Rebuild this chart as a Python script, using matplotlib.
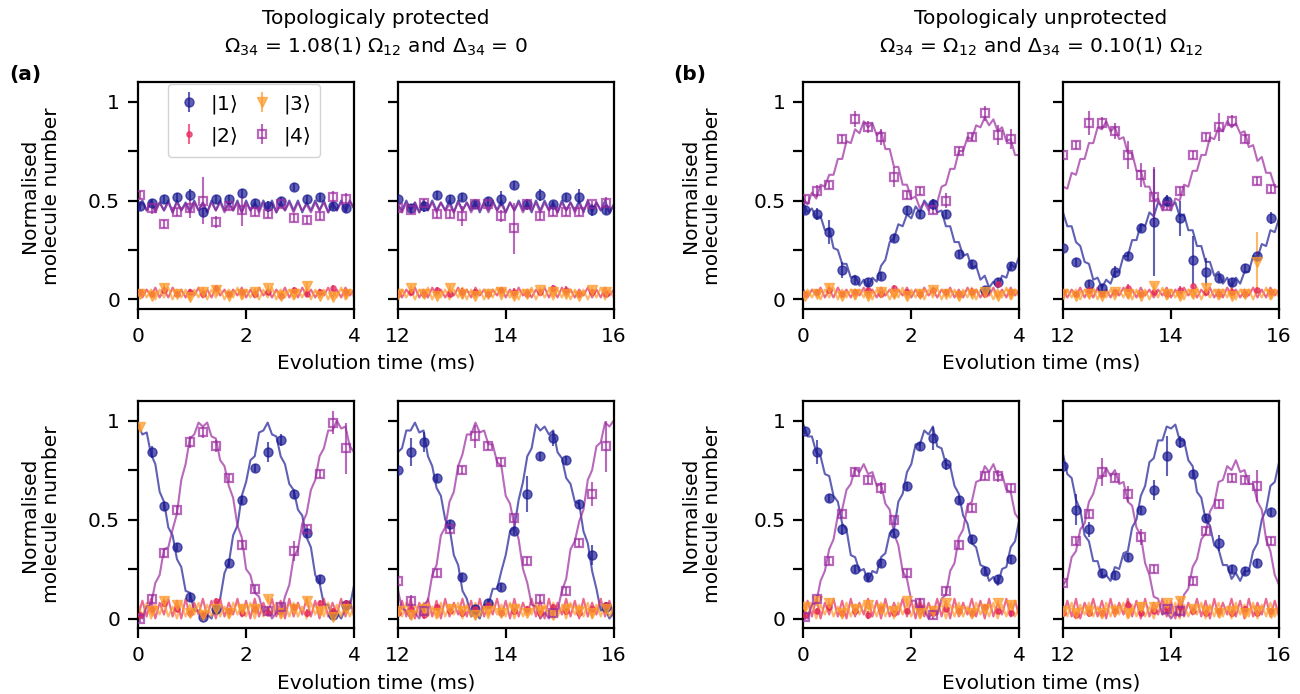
import numpy as np
import matplotlib
matplotlib.use("Agg")
import matplotlib.pyplot as plt

FS = 14.5
plt.rcParams.update({
    "font.family": ["DejaVu Sans"],
    "font.size": FS,
    "mathtext.fontset": "dejavusans",
    "axes.linewidth": 1.6,
    "xtick.major.size": 7, "ytick.major.size": 7,
    "xtick.major.width": 1.6, "ytick.major.width": 1.6,
    "xtick.major.pad": 6, "ytick.major.pad": 6,
})

nan = float("nan")

# ---------------- data ----------------
state_labels = [r"$|1\rangle$", r"$|2\rangle$", r"$|3\rangle$", r"$|4\rangle$"]
group_titles = ["Topologicaly protected",
                "Topologicaly unprotected"]
group_subtitles = [r"$\Omega_{34}$ = 1.08(1) $\Omega_{12}$ and $\Delta_{34}$ = 0",
                   r"$\Omega_{34}$ = $\Omega_{12}$ and $\Delta_{34}$ = 0.10(1) $\Omega_{12}$"]
panel_tags = ["(a)", "(b)"]
window_starts = [0, 12]

t_data_early = [0.03, 0.25, 0.48, 0.72, 0.96, 1.20, 1.44, 1.68, 1.92, 2.16, 2.40, 2.64, 2.88, 3.12, 3.36, 3.60, 3.85]
t_data_late = [12.0, 12.24, 12.48, 12.72, 12.96, 13.2, 13.44, 13.68, 13.92, 14.16, 14.4, 14.64, 14.88, 15.12, 15.36, 15.6, 15.85]

err_minor = [0.015, 0.015, 0.02, 0.015, 0.015, 0.02, 0.015, 0.015, 0.015, 0.02, 0.015, 0.015, 0.015, 0.02, 0.015, 0.015, 0.015]

# (a) top, 0-4 ms
a_top_early_1 = [0.47, 0.49, 0.51, 0.52, 0.53, 0.44, 0.51, 0.51, 0.54, 0.49, 0.47, 0.50, 0.57, 0.51, 0.52, 0.47, 0.46]
a_top_early_2 = [0.04, 0.03, 0.05, 0.03, 0.04, 0.03, 0.06, 0.03, 0.04, 0.03, 0.04, 0.02, 0.05, 0.03, 0.04, 0.06, 0.04]
a_top_early_3 = [0.03, 0.02, 0.06, 0.03, 0.01, 0.04, 0.05, 0.02, 0.03, 0.04, 0.06, 0.02, 0.03, 0.07, 0.02, 0.01, 0.03]
a_top_early_4 = [0.53, 0.46, 0.38, 0.44, 0.46, 0.50, 0.39, 0.47, 0.45, 0.44, 0.43, 0.48, 0.41, 0.40, 0.42, 0.52, 0.51]
a_top_early_e1 = [0.02, 0.02, 0.02, 0.02, 0.03, 0.02, 0.02, 0.02, 0.02, 0.02, 0.03, 0.02, 0.02, 0.02, 0.02, 0.02, 0.02]
a_top_early_e4 = [0.02, 0.03, 0.02, 0.02, 0.05, 0.12, 0.03, 0.02, 0.08, 0.02, 0.02, 0.02, 0.02, 0.02, 0.02, 0.03, 0.03]

# (a) top, 12-16 ms
a_top_late_1 = [0.51, 0.46, 0.47, 0.53, 0.51, 0.52, 0.48, 0.50, 0.51, 0.58, 0.48, 0.53, 0.48, 0.52, 0.52, 0.45, 0.45]
a_top_late_2 = [0.03, 0.04, 0.03, 0.05, 0.03, 0.04, 0.04, 0.03, 0.05, 0.04, 0.03, 0.04, 0.06, 0.05, 0.03, 0.04, 0.03]
a_top_late_3 = [0.03, 0.06, 0.03, 0.02, 0.06, 0.03, 0.02, 0.03, 0.04, 0.02, 0.03, 0.05, 0.04, 0.03, 0.02, 0.05, 0.04]
a_top_late_4 = [0.46, 0.45, 0.49, 0.43, 0.43, 0.42, 0.48, 0.48, 0.42, 0.36, 0.48, 0.42, 0.44, 0.44, 0.44, 0.48, 0.49]
a_top_late_e1 = [0.02, 0.02, 0.03, 0.02, 0.02, 0.02, 0.02, 0.02, 0.04, 0.02, 0.02, 0.03, 0.02, 0.02, 0.04, 0.03, 0.02]
a_top_late_e4 = [0.02, 0.02, 0.02, 0.02, 0.02, 0.05, 0.02, 0.02, 0.03, 0.13, 0.03, 0.02, 0.02, 0.02, 0.02, 0.02, 0.03]

# (a) bottom, 0-4 ms
a_bot_early_1 = [nan, 0.84, 0.57, 0.36, 0.11, 0.01, 0.05, 0.28, 0.60, 0.76, 0.84, 0.90, 0.63, 0.43, 0.20, 0.02, 0.07]
a_bot_early_2 = [0.02, 0.05, 0.08, 0.05, 0.03, 0.02, 0.09, 0.04, 0.03, 0.05, 0.03, 0.04, 0.06, 0.03, 0.08, 0.04, 0.08]
a_bot_early_3 = [0.97, 0.04, 0.09, 0.07, 0.03, 0.02, 0.05, 0.03, 0.05, 0.05, 0.10, 0.03, 0.05, 0.09, 0.04, 0.01, 0.05]
a_bot_early_4 = [0.00, 0.10, 0.33, 0.55, 0.89, 0.94, 0.87, 0.71, 0.37, 0.15, 0.04, 0.06, 0.34, 0.45, 0.73, 0.99, 0.86]
a_bot_early_e1 = [0.02, 0.03, 0.02, 0.02, 0.02, 0.02, 0.02, 0.02, 0.02, 0.02, 0.05, 0.03, 0.02, 0.02, 0.02, 0.02, 0.02]
a_bot_early_e4 = [0.02, 0.02, 0.02, 0.02, 0.03, 0.03, 0.03, 0.02, 0.02, 0.02, 0.02, 0.02, 0.05, 0.02, 0.02, 0.06, 0.13]

# (a) bottom, 12-16 ms
a_bot_late_1 = [0.75, 0.84, 0.89, 0.71, 0.48, 0.21, 0.05, 0.08, 0.16, 0.44, 0.63, 0.82, 0.91, 0.80, 0.58, 0.32, 0.06]
a_bot_late_2 = [0.03, 0.05, 0.02, 0.06, 0.04, 0.03, 0.05, 0.07, 0.03, 0.04, 0.05, 0.03, 0.06, 0.04, 0.03, 0.05, 0.07]
a_bot_late_3 = [0.04, 0.02, 0.05, 0.03, 0.05, 0.04, 0.02, 0.04, 0.03, 0.05, 0.03, 0.04, 0.02, 0.05, 0.04, 0.03, 0.05]
a_bot_late_4 = [0.19, 0.09, 0.04, 0.23, 0.45, 0.75, 0.92, 0.87, 0.79, 0.51, 0.29, 0.10, 0.03, 0.14, 0.38, 0.63, 0.87]
a_bot_late_e1 = [0.02, 0.07, 0.05, 0.02, 0.02, 0.02, 0.02, 0.02, 0.02, 0.02, 0.09, 0.02, 0.04, 0.02, 0.02, 0.05, 0.02]
a_bot_late_e4 = [0.02, 0.03, 0.02, 0.02, 0.02, 0.02, 0.06, 0.02, 0.02, 0.02, 0.02, 0.02, 0.02, 0.02, 0.02, 0.06, 0.13]

# (b) top, 0-4 ms
b_top_early_1 = [0.45, 0.43, 0.34, 0.15, 0.10, 0.09, 0.12, 0.31, 0.45, 0.43, 0.48, 0.43, 0.23, 0.18, 0.05, 0.09, 0.17]
b_top_early_2 = [0.03, 0.04, 0.05, 0.03, 0.04, 0.05, 0.03, 0.06, 0.04, 0.03, 0.05, 0.04, 0.03, 0.04, 0.03, 0.08, 0.04]
b_top_early_3 = [0.02, 0.03, 0.06, 0.02, 0.03, 0.02, 0.04, 0.03, 0.02, 0.03, 0.05, 0.03, 0.02, 0.03, 0.04, 0.02, 0.03]
b_top_early_4 = [0.51, 0.55, 0.58, 0.81, 0.91, 0.87, 0.82, 0.62, 0.53, 0.55, 0.45, 0.50, 0.75, 0.82, 0.94, 0.83, 0.81]
b_top_early_e1 = [0.02, 0.03, 0.06, 0.04, 0.02, 0.02, 0.02, 0.02, 0.02, 0.02, 0.03, 0.02, 0.02, 0.02, 0.02, 0.02, 0.02]
b_top_early_e4 = [0.02, 0.03, 0.02, 0.02, 0.04, 0.03, 0.04, 0.05, 0.02, 0.02, 0.02, 0.04, 0.02, 0.02, 0.04, 0.05, 0.05]

# (b) top, 12-16 ms
b_top_late_1 = [0.26, 0.19, 0.08, 0.06, 0.14, 0.22, 0.36, 0.39, 0.50, 0.41, 0.20, 0.14, 0.11, 0.09, 0.16, 0.22, 0.41]
b_top_late_2 = [0.04, 0.03, 0.05, 0.03, 0.04, 0.06, 0.03, 0.04, 0.03, 0.05, 0.07, 0.04, 0.03, 0.04, 0.03, 0.05, 0.04]
b_top_late_3 = [0.03, 0.02, 0.03, 0.02, 0.04, 0.03, 0.02, 0.07, 0.03, 0.02, 0.03, 0.06, 0.03, 0.02, 0.03, 0.19, 0.03]
b_top_late_4 = [0.73, 0.78, 0.89, 0.89, 0.85, 0.73, 0.63, 0.52, 0.47, 0.55, 0.73, 0.82, 0.87, 0.90, 0.81, 0.60, 0.56]
b_top_late_e1 = [0.02, 0.02, 0.02, 0.02, 0.03, 0.02, 0.02, 0.27, 0.03, 0.09, 0.12, 0.07, 0.02, 0.02, 0.02, 0.02, 0.03]
b_top_late_e4 = [0.02, 0.02, 0.06, 0.03, 0.04, 0.07, 0.06, 0.15, 0.02, 0.02, 0.02, 0.02, 0.07, 0.03, 0.02, 0.02, 0.02]
b_top_late_e3 = [0.015, 0.015, 0.02, 0.015, 0.015, 0.02, 0.015, 0.015, 0.015, 0.02, 0.015, 0.015, 0.015, 0.02, 0.015, 0.15, 0.015]

# (b) bottom, 0-4 ms
b_bot_early_1 = [0.95, 0.84, 0.61, 0.45, 0.25, 0.21, 0.28, 0.43, 0.67, 0.87, 0.91, 0.78, 0.60, 0.40, 0.24, 0.20, 0.30]
b_bot_early_2 = [0.02, 0.04, 0.06, 0.03, 0.04, 0.02, 0.05, 0.03, 0.04, 0.06, 0.03, 0.05, 0.04, 0.03, 0.06, 0.04, 0.03]
b_bot_early_3 = [0.06, 0.09, 0.08, 0.03, 0.05, 0.07, 0.05, 0.04, 0.09, 0.03, 0.04, 0.08, 0.04, 0.03, 0.05, 0.08, 0.07]
b_bot_early_4 = [0.01, 0.10, 0.29, 0.53, 0.74, 0.70, 0.66, 0.50, 0.23, 0.08, 0.02, 0.14, 0.37, 0.56, 0.72, 0.72, 0.66]
b_bot_early_e1 = [0.02, 0.06, 0.02, 0.03, 0.02, 0.02, 0.02, 0.02, 0.02, 0.02, 0.06, 0.03, 0.02, 0.02, 0.02, 0.02, 0.02]
b_bot_early_e4 = [0.02, 0.02, 0.02, 0.02, 0.02, 0.02, 0.03, 0.02, 0.02, 0.02, 0.02, 0.02, 0.02, 0.02, 0.02, 0.03, 0.02]

# (b) bottom, 12-16 ms
b_bot_late_1 = [0.77, 0.55, 0.45, 0.23, 0.22, 0.31, 0.55, 0.65, 0.82, 0.89, 0.73, 0.51, 0.38, 0.25, 0.24, 0.28, 0.54]
b_bot_late_2 = [0.03, 0.02, 0.03, 0.03, 0.04, 0.07, 0.03, 0.04, 0.05, 0.06, 0.04, 0.03, 0.04, 0.03, 0.05, 0.03, 0.04]
b_bot_late_3 = [0.04, 0.03, 0.04, 0.03, 0.04, 0.03, 0.06, 0.06, 0.08, 0.09, 0.05, 0.04, 0.03, 0.04, 0.03, 0.04, 0.03]
b_bot_late_4 = [0.18, 0.39, 0.53, 0.74, 0.71, 0.63, 0.41, 0.25, 0.05, 0.04, 0.19, 0.44, 0.58, 0.71, 0.70, 0.67, 0.39]
b_bot_late_e1 = [0.02, 0.08, 0.04, 0.02, 0.02, 0.02, 0.02, 0.05, 0.10, 0.03, 0.02, 0.02, 0.04, 0.02, 0.02, 0.02, 0.02]
b_bot_late_e4 = [0.02, 0.02, 0.02, 0.07, 0.02, 0.04, 0.04, 0.02, 0.02, 0.02, 0.02, 0.02, 0.02, 0.02, 0.02, 0.08, 0.02]

# ---- theory curves (sampled every 0.08 ms across each 4 ms window) ----
a_top_early_line1 = [0.47, 0.50, 0.45, 0.50, 0.45, 0.49, 0.45, 0.50, 0.44, 0.50, 0.45, 0.49, 0.45, 0.50, 0.45, 0.49, 0.44, 0.50, 0.45, 0.50, 0.45, 0.49, 0.45, 0.50, 0.44, 0.50, 0.45, 0.49, 0.45, 0.50, 0.45, 0.50, 0.44, 0.49, 0.45, 0.50, 0.45, 0.50, 0.44, 0.49, 0.45, 0.50, 0.45, 0.50, 0.44, 0.49, 0.45, 0.50, 0.45, 0.50, 0.46]
a_top_early_line4 = [0.46, 0.49, 0.45, 0.49, 0.44, 0.49, 0.45, 0.49, 0.44, 0.49, 0.45, 0.48, 0.44, 0.49, 0.45, 0.49, 0.44, 0.49, 0.45, 0.49, 0.44, 0.48, 0.45, 0.49, 0.44, 0.49, 0.45, 0.48, 0.44, 0.49, 0.45, 0.49, 0.44, 0.48, 0.45, 0.49, 0.44, 0.49, 0.45, 0.48, 0.44, 0.49, 0.45, 0.49, 0.44, 0.48, 0.45, 0.49, 0.44, 0.49, 0.46]
a_top_late_line1 = [0.48, 0.45, 0.50, 0.45, 0.49, 0.44, 0.50, 0.45, 0.50, 0.45, 0.49, 0.45, 0.50, 0.44, 0.50, 0.45, 0.49, 0.45, 0.50, 0.44, 0.49, 0.45, 0.50, 0.45, 0.50, 0.44, 0.49, 0.45, 0.50, 0.45, 0.49, 0.44, 0.50, 0.45, 0.50, 0.45, 0.49, 0.44, 0.50, 0.45, 0.49, 0.45, 0.50, 0.44, 0.50, 0.45, 0.49, 0.45, 0.50, 0.44, 0.48]
a_top_late_line4 = [0.47, 0.44, 0.49, 0.45, 0.49, 0.44, 0.48, 0.45, 0.49, 0.44, 0.49, 0.45, 0.48, 0.44, 0.49, 0.45, 0.49, 0.44, 0.48, 0.45, 0.49, 0.44, 0.49, 0.45, 0.48, 0.44, 0.49, 0.45, 0.49, 0.44, 0.48, 0.45, 0.49, 0.44, 0.49, 0.45, 0.48, 0.44, 0.49, 0.45, 0.49, 0.44, 0.48, 0.45, 0.49, 0.44, 0.49, 0.45, 0.48, 0.44, 0.47]

a_bot_early_line1 = [0.98, 0.93, 0.94, 0.83, 0.78, 0.64, 0.59, 0.46, 0.42, 0.30, 0.26, 0.14, 0.13, 0.04, 0.04, 0.00, 0.02, 0.00, 0.07, 0.10, 0.23, 0.28, 0.42, 0.47, 0.62, 0.69, 0.80, 0.82, 0.94, 0.95, 0.99, 0.93, 0.92, 0.82, 0.78, 0.68, 0.65, 0.55, 0.52, 0.41, 0.36, 0.22, 0.18, 0.07, 0.07, 0.00, 0.03, 0.00, 0.05, 0.06, 0.17]
a_bot_early_line4 = [0.02, 0.00, 0.06, 0.07, 0.18, 0.22, 0.35, 0.36, 0.45, 0.53, 0.70, 0.78, 0.91, 0.93, 0.99, 0.97, 0.99, 0.92, 0.91, 0.80, 0.77, 0.67, 0.61, 0.47, 0.41, 0.25, 0.22, 0.13, 0.11, 0.03, 0.05, 0.00, 0.03, 0.02, 0.11, 0.17, 0.31, 0.35, 0.48, 0.53, 0.65, 0.70, 0.82, 0.86, 0.95, 0.95, 1.00, 0.96, 0.97, 0.87, 0.84]
a_bot_late_line1 = [0.84, 0.86, 0.95, 0.95, 0.99, 0.94, 0.95, 0.82, 0.77, 0.66, 0.62, 0.50, 0.46, 0.32, 0.27, 0.14, 0.10, 0.01, 0.03, 0.00, 0.07, 0.07, 0.15, 0.15, 0.24, 0.32, 0.44, 0.46, 0.60, 0.69, 0.82, 0.86, 0.98, 0.95, 0.97, 0.93, 0.95, 0.84, 0.81, 0.71, 0.68, 0.59, 0.58, 0.44, 0.38, 0.24, 0.15, 0.04, 0.05, 0.00, 0.03]
a_bot_late_line4 = [0.15, 0.05, 0.04, 0.00, 0.03, 0.00, 0.07, 0.09, 0.22, 0.27, 0.42, 0.46, 0.59, 0.64, 0.77, 0.83, 0.93, 0.93, 0.99, 0.94, 0.95, 0.88, 0.88, 0.79, 0.77, 0.62, 0.58, 0.47, 0.40, 0.25, 0.18, 0.07, 0.06, 0.00, 0.03, 0.00, 0.04, 0.04, 0.14, 0.20, 0.35, 0.39, 0.49, 0.55, 0.70, 0.75, 0.87, 0.89, 0.99, 0.97, 1.00]

b_top_early_line1 = [0.49, 0.44, 0.46, 0.41, 0.42, 0.35, 0.36, 0.26, 0.25, 0.18, 0.18, 0.11, 0.12, 0.07, 0.10, 0.06, 0.11, 0.09, 0.17, 0.20, 0.29, 0.31, 0.38, 0.37, 0.43, 0.41, 0.47, 0.44, 0.50, 0.47, 0.50, 0.44, 0.45, 0.37, 0.37, 0.29, 0.29, 0.22, 0.23, 0.16, 0.17, 0.10, 0.12, 0.06, 0.09, 0.06, 0.12, 0.11, 0.18, 0.16, 0.22]
b_top_early_line4 = [0.51, 0.48, 0.54, 0.51, 0.58, 0.57, 0.63, 0.63, 0.71, 0.71, 0.80, 0.79, 0.86, 0.84, 0.90, 0.87, 0.89, 0.83, 0.85, 0.76, 0.76, 0.67, 0.67, 0.58, 0.58, 0.51, 0.52, 0.46, 0.49, 0.45, 0.50, 0.49, 0.57, 0.58, 0.66, 0.66, 0.75, 0.75, 0.82, 0.81, 0.88, 0.87, 0.92, 0.88, 0.91, 0.85, 0.87, 0.80, 0.81, 0.73, 0.73]
b_top_late_line1 = [0.44, 0.37, 0.37, 0.29, 0.27, 0.19, 0.18, 0.10, 0.11, 0.06, 0.10, 0.08, 0.14, 0.14, 0.22, 0.22, 0.30, 0.30, 0.38, 0.37, 0.44, 0.42, 0.49, 0.47, 0.52, 0.47, 0.49, 0.42, 0.43, 0.35, 0.35, 0.27, 0.27, 0.19, 0.19, 0.12, 0.14, 0.08, 0.11, 0.06, 0.11, 0.08, 0.14, 0.14, 0.22, 0.21, 0.28, 0.27, 0.35, 0.34, 0.41]
b_top_late_line4 = [0.57, 0.56, 0.64, 0.63, 0.71, 0.71, 0.79, 0.79, 0.87, 0.86, 0.90, 0.85, 0.87, 0.81, 0.82, 0.74, 0.74, 0.65, 0.65, 0.57, 0.57, 0.50, 0.51, 0.45, 0.49, 0.45, 0.51, 0.50, 0.58, 0.57, 0.65, 0.65, 0.73, 0.73, 0.82, 0.81, 0.87, 0.85, 0.90, 0.87, 0.89, 0.84, 0.85, 0.77, 0.78, 0.70, 0.72, 0.64, 0.64, 0.57, 0.57]

b_bot_early_line1 = [0.98, 0.92, 0.92, 0.84, 0.82, 0.73, 0.72, 0.62, 0.59, 0.48, 0.45, 0.32, 0.31, 0.24, 0.25, 0.19, 0.24, 0.23, 0.31, 0.33, 0.43, 0.45, 0.59, 0.63, 0.74, 0.78, 0.88, 0.88, 0.95, 0.93, 0.97, 0.87, 0.86, 0.78, 0.77, 0.67, 0.63, 0.52, 0.48, 0.38, 0.36, 0.27, 0.26, 0.19, 0.21, 0.17, 0.25, 0.26, 0.36, 0.39, 0.50]
b_bot_early_line4 = [0.02, 0.00, 0.07, 0.08, 0.19, 0.24, 0.35, 0.40, 0.52, 0.55, 0.65, 0.68, 0.76, 0.74, 0.78, 0.73, 0.74, 0.67, 0.68, 0.58, 0.55, 0.43, 0.37, 0.24, 0.20, 0.09, 0.09, 0.02, 0.04, 0.00, 0.03, 0.02, 0.10, 0.12, 0.24, 0.28, 0.41, 0.45, 0.57, 0.59, 0.69, 0.70, 0.77, 0.74, 0.78, 0.72, 0.73, 0.65, 0.64, 0.53, 0.50]
b_bot_late_line1 = [0.83, 0.73, 0.71, 0.60, 0.55, 0.42, 0.39, 0.29, 0.29, 0.21, 0.22, 0.19, 0.26, 0.25, 0.33, 0.34, 0.46, 0.50, 0.62, 0.67, 0.79, 0.81, 0.90, 0.90, 0.97, 0.96, 0.98, 0.90, 0.90, 0.80, 0.77, 0.64, 0.61, 0.50, 0.47, 0.37, 0.35, 0.27, 0.27, 0.20, 0.23, 0.19, 0.24, 0.24, 0.34, 0.38, 0.50, 0.55, 0.67, 0.69, 0.79]
b_bot_late_line4 = [0.17, 0.20, 0.31, 0.34, 0.45, 0.48, 0.59, 0.63, 0.71, 0.71, 0.76, 0.72, 0.75, 0.68, 0.69, 0.59, 0.57, 0.46, 0.42, 0.28, 0.22, 0.11, 0.10, 0.02, 0.03, 0.00, 0.03, 0.01, 0.12, 0.15, 0.26, 0.30, 0.40, 0.43, 0.54, 0.58, 0.69, 0.70, 0.77, 0.75, 0.80, 0.74, 0.75, 0.68, 0.68, 0.59, 0.55, 0.40, 0.34, 0.22, 0.17]

top_line2 = [0.05, 0.01, 0.05, 0.02, 0.06, 0.01, 0.05, 0.01, 0.06, 0.02, 0.05, 0.01, 0.05, 0.02, 0.06, 0.01, 0.05, 0.01, 0.06, 0.02, 0.05, 0.01, 0.05, 0.02, 0.06, 0.01, 0.05, 0.01, 0.06, 0.02, 0.05, 0.01, 0.05, 0.02, 0.06, 0.01, 0.05, 0.01, 0.06, 0.02, 0.05, 0.01, 0.05, 0.02, 0.06, 0.01, 0.05, 0.01, 0.06, 0.02, 0.05]
top_line3 = [0.00, 0.05, 0.01, 0.05, 0.00, 0.05, 0.01, 0.06, 0.00, 0.05, 0.01, 0.05, 0.00, 0.05, 0.01, 0.06, 0.00, 0.05, 0.01, 0.05, 0.00, 0.05, 0.01, 0.06, 0.00, 0.05, 0.01, 0.05, 0.00, 0.05, 0.01, 0.06, 0.00, 0.05, 0.01, 0.05, 0.00, 0.05, 0.01, 0.06, 0.00, 0.05, 0.01, 0.05, 0.00, 0.05, 0.01, 0.06, 0.00, 0.05, 0.01]
bot_line2 = [0.01, 0.09, 0.01, 0.10, 0.00, 0.08, 0.02, 0.10, 0.01, 0.09, 0.00, 0.10, 0.01, 0.08, 0.02, 0.10, 0.01, 0.09, 0.00, 0.10, 0.01, 0.08, 0.02, 0.10, 0.01, 0.09, 0.00, 0.10, 0.01, 0.08, 0.02, 0.10, 0.01, 0.09, 0.00, 0.10, 0.01, 0.08, 0.02, 0.10, 0.01, 0.09, 0.00, 0.10, 0.01, 0.08, 0.02, 0.10, 0.01, 0.09, 0.01]
bot_line3 = [0.07, 0.01, 0.08, 0.00, 0.07, 0.02, 0.08, 0.01, 0.06, 0.00, 0.08, 0.01, 0.07, 0.02, 0.08, 0.00, 0.07, 0.01, 0.08, 0.01, 0.06, 0.00, 0.08, 0.02, 0.07, 0.01, 0.08, 0.00, 0.07, 0.01, 0.06, 0.02, 0.08, 0.00, 0.07, 0.01, 0.08, 0.01, 0.06, 0.00, 0.08, 0.02, 0.07, 0.01, 0.08, 0.00, 0.07, 0.01, 0.08, 0.01, 0.06]

# colours for |1>, |2>, |3>, |4>
state_colors = ["#1c1c94", "#e4285c", "#fd9a2a", "#9a2a9e"]

# ---------------- assemble panels ----------------
panels = [
    (0, 0, 0, [a_top_early_1, a_top_early_2, a_top_early_3, a_top_early_4],
     [a_top_early_e1, err_minor, err_minor, a_top_early_e4],
     [a_top_early_line1, top_line2, top_line3, a_top_early_line4]),
    (1, 0, 1, [a_top_late_1, a_top_late_2, a_top_late_3, a_top_late_4],
     [a_top_late_e1, err_minor, err_minor, a_top_late_e4],
     [a_top_late_line1, top_line2, top_line3, a_top_late_line4]),
    (0, 1, 0, [a_bot_early_1, a_bot_early_2, a_bot_early_3, a_bot_early_4],
     [a_bot_early_e1, err_minor, err_minor, a_bot_early_e4],
     [a_bot_early_line1, bot_line2, bot_line3, a_bot_early_line4]),
    (1, 1, 1, [a_bot_late_1, a_bot_late_2, a_bot_late_3, a_bot_late_4],
     [a_bot_late_e1, err_minor, err_minor, a_bot_late_e4],
     [a_bot_late_line1, bot_line2, bot_line3, a_bot_late_line4]),
    (2, 0, 0, [b_top_early_1, b_top_early_2, b_top_early_3, b_top_early_4],
     [b_top_early_e1, err_minor, err_minor, b_top_early_e4],
     [b_top_early_line1, top_line2, top_line3, b_top_early_line4]),
    (3, 0, 1, [b_top_late_1, b_top_late_2, b_top_late_3, b_top_late_4],
     [b_top_late_e1, err_minor, b_top_late_e3, b_top_late_e4],
     [b_top_late_line1, top_line2, top_line3, b_top_late_line4]),
    (2, 1, 0, [b_bot_early_1, b_bot_early_2, b_bot_early_3, b_bot_early_4],
     [b_bot_early_e1, err_minor, err_minor, b_bot_early_e4],
     [b_bot_early_line1, bot_line2, bot_line3, b_bot_early_line4]),
    (3, 1, 1, [b_bot_late_1, b_bot_late_2, b_bot_late_3, b_bot_late_4],
     [b_bot_late_e1, err_minor, err_minor, b_bot_late_e4],
     [b_bot_late_line1, bot_line2, bot_line3, b_bot_late_line4]),
]

# ---------------- figure ----------------
fig = plt.figure(figsize=(13, 6.94), dpi=100)
col_left = [0.1062, 0.3059, 0.6179, 0.8177]
ax_w = 0.1662
row_bottom = [0.5548, 0.0951]
ax_h = 0.3265

marker_styles = [
    dict(fmt="o", ms=6.5, mfc=None, mew=1.0),
    dict(fmt="o", ms=3.8, mfc=None, mew=1.0),
    dict(fmt="v", ms=6.5, mfc=None, mew=1.0),
    dict(fmt="s", ms=6, mfc="none", mew=1.6),
]

legend_done = False
for col, row, win, pts, errs, lines in panels:
    ax = fig.add_axes([col_left[col], row_bottom[row], ax_w, ax_h])
    t0 = window_starts[win]
    tdat = t_data_early if win == 0 else t_data_late
    for k in range(4):
        yl = lines[k]
        tl = np.linspace(t0, t0 + 4, len(yl))
        ax.plot(tl, yl, color=state_colors[k], lw=1.5, alpha=0.7, zorder=2)
    handles = []
    for k in range(4):
        st = marker_styles[k]
        kw = dict(fmt=st["fmt"], ms=st["ms"], mew=st["mew"], color=state_colors[k],
                  ecolor=state_colors[k], elinewidth=1.5, capsize=0, alpha=0.7, zorder=3)
        if st["mfc"] is not None:
            kw["mfc"] = st["mfc"]
        h = ax.errorbar(tdat, pts[k], yerr=errs[k], **kw)
        handles.append(h)
    if not legend_done:
        legend_done = True
        ax.legend(handles, state_labels, ncol=2, loc="upper center",
                  bbox_to_anchor=(0.49, 0.995), borderaxespad=0.0,
                  handlelength=1.2, handletextpad=0.45, columnspacing=0.6,
                  labelspacing=0.45, borderpad=0.45, fontsize=FS, framealpha=0.85,
                  edgecolor="#cccccc")
    ax.set_xlim(t0, t0 + 4)
    ax.set_xticks([t0, t0 + 2, t0 + 4])
    ax.set_xticklabels([str(t0), str(t0 + 2), str(t0 + 4)])
    ax.set_ylim(-0.048, 1.097)
    ax.set_yticks([0, 0.25, 0.5, 0.75, 1])
    if col in (0, 2):
        ax.set_yticklabels(["0", "", "0.5", "", "1"])
    else:
        ax.set_yticklabels([])

group_x = [0.2892, 0.8008]
ylabel_x = [0.031, 0.540]
row_center = [0.7176, 0.2587]
xlabel_y = [0.477, 0.016]
tag_x = [0.007, 0.518]
for g in range(2):
    fig.text(group_x[g], 0.973, group_titles[g], ha="center", va="center")
    fig.text(group_x[g], 0.933, group_subtitles[g], ha="center", va="center")
    fig.text(tag_x[g], 0.893, panel_tags[g], ha="left", va="center", fontweight="bold")
    for r in range(2):
        fig.text(ylabel_x[g], row_center[r], "Normalised\nmolecule number",
                 rotation=90, ha="center", va="center", multialignment="center")
        fig.text(group_x[g], xlabel_y[r], "Evolution time (ms)", ha="center", va="center")

fig.savefig("out.png", dpi=100)
